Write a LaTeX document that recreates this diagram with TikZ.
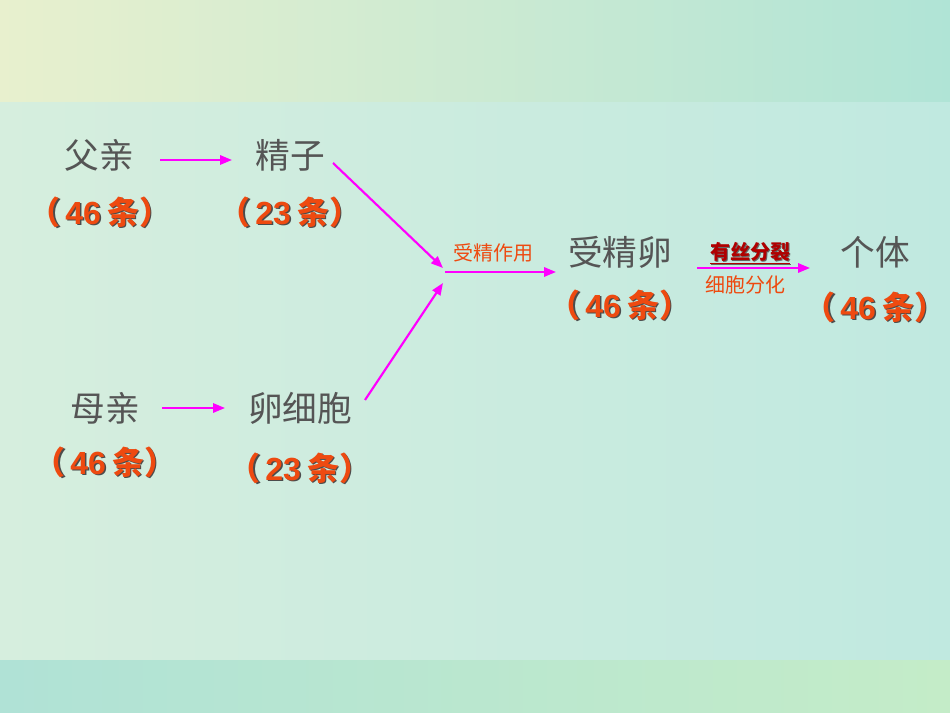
\documentclass[tikz,border=0pt]{standalone}
\usepackage{fontspec}
\newfontfamily\cjk{Noto Sans CJK SC}
\newfontfamily\arb{Liberation Sans}
\usetikzlibrary{arrows.meta}
\definecolor{txtgray}{HTML}{555555}
\definecolor{numred}{HTML}{EE4A10}
\definecolor{arrmag}{HTML}{FF00FF}
\definecolor{darkred}{HTML}{B00000}
\tikzset{
  x=0.75pt,y=-0.75pt,
  word/.style={font=\cjk\fontsize{26}{28}\selectfont, text=txtgray, inner sep=0},
  cnt/.style={font=\cjk\bfseries\fontsize{24}{26}\selectfont, text=numred, inner sep=0},
  lab/.style={font=\cjk\fontsize{15}{16}\selectfont, text=numred, inner sep=0},
  arr/.style={draw=arrmag, line width=1.6pt, -{Triangle[length=9pt,width=7pt]}}
}
\newcommand{\cnttxt}[1]{（\hspace{0.15em}{\arb\bfseries #1}\hspace{0.2em}条）}
\newcommand{\cntnode}[3]{%
  \node[cnt,text=black!70] at ([shift={(1.5,1.5)}]#2) {\cnttxt{#3}};
  \node[cnt] (#1) at (#2) {\cnttxt{#3}};}
\begin{document}
\begin{tikzpicture}
\useasboundingbox (0,0) rectangle (950,713);
\shade[left color={rgb,255:red,232;green,240;blue,206}, right color={rgb,255:red,176;green,228;blue,214}] (0,0) rectangle (950,103);
\shade[left color={rgb,255:red,214;green,238;blue,222}, right color={rgb,255:red,192;green,233;blue,224}] (0,103) rectangle (950,660);
\shade[left color={rgb,255:red,176;green,226;blue,214}, right color={rgb,255:red,196;green,236;blue,200}] (0,660) rectangle (950,713);

\node[word] (fq) at (99,155) {父亲};
\node[word] (jz) at (290,155) {精子};
\node[word] (mq) at (105,408) {母亲};
\node[word] (lxb) at (300,408) {卵细胞};
\node[word] (sjl) at (620,252) {受精卵};
\node[word] (gt) at (875,252) {个体};
\cntnode{c1}{100,212}{46}
\cntnode{c2}{290,212}{23}
\cntnode{c3}{105,462}{46}
\cntnode{c4}{300,468}{23}
\cntnode{c5}{620,305}{46}
\cntnode{c6}{875,307}{46}

\coordinate (a1s) at (160,160); \coordinate (a1e) at (232,160);
\coordinate (a2s) at (162,408); \coordinate (a2e) at (225,408);
\coordinate (a3s) at (333,163); \coordinate (a3e) at (443,268);
\coordinate (a4s) at (365,400); \coordinate (a4e) at (443,283);
\coordinate (a5s) at (445,272); \coordinate (a5e) at (556,272);
\coordinate (a6s) at (697,268); \coordinate (a6e) at (810,268);
\draw[arr] (a1s) -- (a1e);
\draw[arr] (a2s) -- (a2e);
\draw[arr] (a3s) -- (a3e);
\draw[arr] (a4s) -- (a4e);
\draw[arr] (a5s) -- (a5e);
\draw[arr] (a6s) -- (a6e);

\node[lab] (l1) at (493,253) {受精作用};
\node[lab,font=\cjk\bfseries\fontsize{15}{16}\selectfont,text=black!60] at (751,254) {\underline{有丝分裂}};
\node[lab,font=\cjk\bfseries\fontsize{15}{16}\selectfont,text=darkred] (l2) at (750,253) {\underline{有丝分裂}};
\node[lab] (l3) at (745,285) {细胞分化};
\end{tikzpicture}
\end{document}
